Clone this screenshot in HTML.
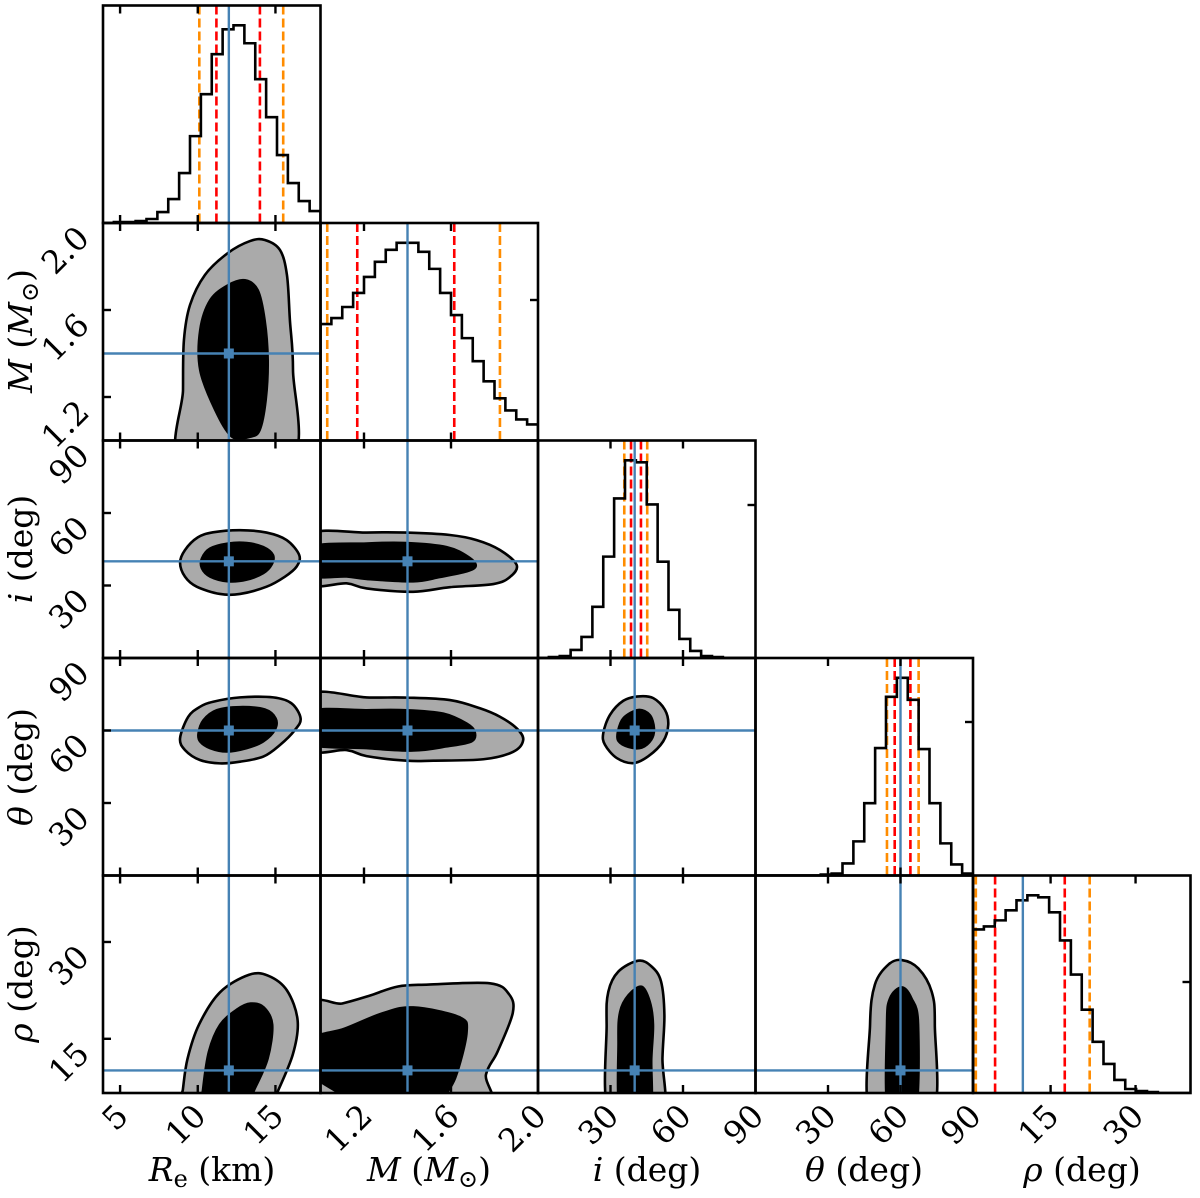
<!DOCTYPE html>
<html><head><meta charset="utf-8"><style>
html,body{margin:0;padding:0;background:#fff;}
svg{display:block;}
text{font-family:"DejaVu Serif","Liberation Serif",serif;fill:#000;}
</style></head><body>
<svg id="chart" width="1200" height="1198" viewBox="0 0 1200 1198" xmlns="http://www.w3.org/2000/svg">
<defs></defs>
<g id="layer-fill"></g>
<g id="layer-lines"></g>
<g id="layer-axes"></g>
<g id="layer-text"></g>
</svg>
<script>
// ---------- data ----------
const paramNames = ["Re","M","i","theta","rho"];
const truths = [12, 1.4, 40, 60, 10.1];
const colMin = [3.9, 1.0, 0, 0, 1.3];
const colMax = [17.9, 2.0, 90, 90, 39.7];
const rowMin = [0, 1.0, 0, 0, 6.6];
const rowMax = [1, 2.0, 90, 90, 40.3];

const histRe = [0,1,1,2,4,11,24,50,87,129,169,194,198,180,144,106,68,40,22,12];
const histM = [116,122,133,147,163,178,190,197,197,188,171,147,125,102,79,59,42,30,21,16];
const histI = [0,1,2,8,21,51,101,159,197,195,153,96,48,19,7,2,1,0,0,0];
const histTh = [0,0,0,0,0,0,1,2,12,34,72,127,178,197,175,126,72,32,11,2];
const histRho = [163,166,172,182,192,197,195,180,152,118,83,51,29,13,4,2,1,0,0,0];

const qRe = [10.1, 11.2, 14.0, 15.5];
const qM = [1.031, 1.169, 1.615, 1.825];
const qI = [35.7, 38.5, 42.6, 45.2];
const qTh = [54.4, 57.6, 64.1, 67.5];
const qRho = [1.8, 5.2, 17.5, 21.9];

const xTickVals = [[5,10,15],[1.2,1.6,2.0],[30,60,90],[30,60,90],[15,30]];
const xTickLabels = [["5","10","15"],["1.2","1.6","2.0"],["30","60","90"],["30","60","90"],["15","30"]];
const yTickVals = [[],[1.2,1.6,2.0],[30,60,90],[30,60,90],[15,30]];
const yTickLabels = [[],["1.2","1.6","2.0"],["30","60","90"],["30","60","90"],["15","30"]];

const cReM_outer = [[9.05,0.9],[9.05,1.232],[9.11,1.462],[9.5,1.623],[10.46,1.761],[11.94,1.862],[13.36,1.917],[14.32,1.922],[15.29,1.876],[15.74,1.761],[15.93,1.554],[16.13,1.324],[15.93,0.9]];
const cReM_inner = [[12.2,1.016],[11.11,1.14],[10.14,1.324],[10.14,1.508],[10.79,1.646],[11.94,1.715],[13.04,1.738],[13.87,1.692],[14.32,1.554],[14.52,1.37],[14.39,1.186],[14.0,1.048],[13.36,1.016]];
const cReI_outer = [[8.86,39.4],[9.18,44.7],[10.0,49.9],[10.98,52.0],[12.72,52.9],[14.43,51.9],[15.72,48.8],[16.53,42.6],[16.36,37.8],[15.6,33.6],[14.43,29.5],[12.72,26.5],[11.43,26.5],[9.93,29.5],[9.18,33.6]];
const cReI_inner = [[10.25,41.2],[10.79,45.4],[11.96,47.5],[13.15,47.7],[14.22,46.0],[14.86,42.6],[14.76,38.5],[14.22,35.0],[13.15,32.3],[11.96,31.6],[10.79,33.6],[10.25,37.1]];
const cReTh_outer = [[8.86,56.8],[9.39,65.7],[10.14,69.8],[10.99,71.9],[12.72,73.7],[14.86,73.7],[16.04,71.2],[16.62,65.0],[16.25,60.2],[15.29,54.0],[14.22,49.2],[12.72,47.1],[11.43,46.4],[10.14,47.8],[9.18,51.9]];
const cReTh_inner = [[10.03,58.8],[10.35,64.3],[11.22,68.5],[12.72,69.8],[14.32,68.8],[15.03,65.0],[14.97,60.2],[14.22,55.4],[13.15,52.6],[11.86,51.2],[10.79,52.6],[10.14,55.4]];
const cMI_outer = [[0.95,50.9],[1.212,51.9],[1.396,51.9],[1.595,50.9],[1.718,48.8],[1.825,44.7],[1.902,38.5],[1.872,33.6],[1.795,30.6],[1.595,29.3],[1.426,27.4],[1.212,28.8],[1.12,30.9],[0.95,31.1]];
const cMI_inner = [[0.95,45.8],[1.212,47.5],[1.396,47.7],[1.58,46.0],[1.68,41.9],[1.715,38.1],[1.672,35.7],[1.549,33.4],[1.426,31.6],[1.212,32.6],[1.12,33.6],[0.95,34.3]];
const cMTh_outer = [[0.95,74.7],[1.212,73.7],[1.396,73.6],[1.595,72.6],[1.733,69.2],[1.825,65.7],[1.902,60.9],[1.932,56.1],[1.886,51.2],[1.749,48.1],[1.519,47.5],[1.396,47.5],[1.212,49.4],[1.12,51.9],[0.95,52.6]];
const cMTh_inner = [[0.95,67.8],[1.212,68.5],[1.396,68.5],[1.565,67.1],[1.672,63.0],[1.71,59.5],[1.695,55.4],[1.58,53.3],[1.427,51.6],[1.212,52.6],[0.95,54.7]];
const cITh_outer = [[27.0,58.9],[29.8,66.5],[35.3,72.3],[41.5,74.1],[47.7,73.4],[52.5,68.6],[53.9,62.4],[51.8,55.5],[45.6,49.3],[39.4,46.5],[32.6,48.6],[27.7,54.1]];
const cITh_inner = [[33.0,59.7],[35.3,65.2],[41.5,68.6],[46.3,66.5],[48.1,61.0],[47.0,56.2],[42.9,52.8],[37.4,53.1],[33.2,55.6]];
const cReRho_outer = [[8.85,3],[9.04,7.1],[9.34,11.9],[10.08,17.2],[11.43,22.2],[13.28,24.9],[14.51,24.8],[15.74,22.5],[16.43,17.8],[16.11,12.5],[15.0,6.0],[14.51,3]];
const cReRho_inner = [[10.2,3],[10.32,7.1],[10.7,13.0],[11.43,17.2],[12.54,19.6],[13.4,20.5],[14.26,19.9],[14.81,17.2],[14.51,11.9],[13.65,7.1],[12.79,3]];
const cMRho_outer = [[0.95,3],[0.95,19.56],[1.1,20.47],[1.223,21.65],[1.356,23.1],[1.497,23.4],[1.779,23.6],[1.867,21.9],[1.884,19.0],[1.814,13.0],[1.761,9.5],[1.735,3]];
const cMRho_inner = [[0.95,14.8],[1.11,16.6],[1.286,19.0],[1.427,19.9],[1.638,18.4],[1.673,16.0],[1.62,8.9],[1.55,5],[1.541,3],[1.154,3],[1.11,5.9],[0.95,9.8]];
const cIRho_outer = [[29.8,3],[28.4,17.2],[29.1,22.3],[33.2,25.4],[41.5,27.1],[47.0,26.2],[50.9,23.9],[52.3,18.7],[51.5,12.0],[51.2,3]];
const cIRho_inner = [[34.3,3],[33.2,14.6],[33.9,19.2],[37.4,21.8],[42.9,23.1],[46.3,20.8],[47.7,17.2],[47.0,12.0],[46.1,3]];
const cThRho_outer = [[48.1,3],[47.4,17.2],[49.4,23.4],[55.0,26.5],[60.5,27.2],[67.4,25.9],[72.9,22.3],[74.2,17.2],[72.9,3]];
const cThRho_inner = [[55.0,3],[54.3,17.2],[55.6,21.3],[60.5,23.0],[64.6,21.3],[67.4,17.2],[66.0,3]];

// ---------- layout ----------
const PL = [103, 320.5, 538, 755.5, 973];
const PT = [5.5, 223, 440.5, 658, 875.5];
const PW = 217.5, PH = 217.5;
const NS = "http://www.w3.org/2000/svg";
const svg = document.getElementById("chart");
const defs = svg.querySelector("defs");
const LF = document.getElementById("layer-fill");
const LL = document.getElementById("layer-lines");
const LA = document.getElementById("layer-axes");
const LT = document.getElementById("layer-text");

function xs(c, v){ return PL[c] + (v - colMin[c]) / (colMax[c] - colMin[c]) * PW; }
function ys(r, v){ return PT[r] + PH - (v - rowMin[r]) / (rowMax[r] - rowMin[r]) * PH; }
function mk(tag, attrs, parent){
  const e = document.createElementNS(NS, tag);
  for (const k in attrs) e.setAttribute(k, attrs[k]);
  parent.appendChild(e);
  return e;
}
for (let r = 0; r < 5; r++) for (let c = 0; c <= r; c++) {
  const cp = mk("clipPath", {id: "clip-" + c + "-" + r}, defs);
  mk("rect", {x: PL[c], y: PT[r], width: PW, height: PH}, cp);
}
function smoothClosed(pts){
  const n = pts.length;
  let d = "M" + pts[0][0].toFixed(2) + "," + pts[0][1].toFixed(2);
  for (let k = 0; k < n; k++) {
    const p0 = pts[(k - 1 + n) % n], p1 = pts[k], p2 = pts[(k + 1) % n], p3 = pts[(k + 2) % n];
    const c1x = p1[0] + (p2[0] - p0[0]) / 6, c1y = p1[1] + (p2[1] - p0[1]) / 6;
    const c2x = p2[0] - (p3[0] - p1[0]) / 6, c2y = p2[1] - (p3[1] - p1[1]) / 6;
    d += "C" + c1x.toFixed(2) + "," + c1y.toFixed(2) + " " + c2x.toFixed(2) + "," + c2y.toFixed(2) + " " + p2[0].toFixed(2) + "," + p2[1].toFixed(2);
  }
  return d + "Z";
}
function drawContour(c, r, outer, inner, name){
  const g = mk("g", {"clip-path": "url(#clip-" + c + "-" + r + ")"}, LF);
  
  
  const po = outer.map(p => [xs(c, p[0]), ys(r, p[1])]);
  const pi = inner.map(p => [xs(c, p[0]), ys(r, p[1])]);
  const a = mk("path", {d: smoothClosed(po), fill: "#aaaaaa", stroke: "#000", "stroke-width": 2.6}, g);
  
  
  const b = mk("path", {d: smoothClosed(pi), fill: "#000", stroke: "#000", "stroke-width": 2}, g);
  
  
}
drawContour(0,1,cReM_outer,cReM_inner,"contour-re-m");
drawContour(0,2,cReI_outer,cReI_inner,"contour-re-i");
drawContour(0,3,cReTh_outer,cReTh_inner,"contour-re-theta");
drawContour(0,4,cReRho_outer,cReRho_inner,"contour-re-rho");
drawContour(1,2,cMI_outer,cMI_inner,"contour-m-i");
drawContour(1,3,cMTh_outer,cMTh_inner,"contour-m-theta");
drawContour(1,4,cMRho_outer,cMRho_inner,"contour-m-rho");
drawContour(2,3,cITh_outer,cITh_inner,"contour-i-theta");
drawContour(2,4,cIRho_outer,cIRho_inner,"contour-i-rho");
drawContour(3,4,cThRho_outer,cThRho_inner,"contour-theta-rho");

const hists = [histRe, histM, histI, histTh, histRho];
const quants = [qRe, qM, qI, qTh, qRho];
for (let c = 0; c < 5; c++) {
  const h = hists[c], n = h.length;
  const hmax = Math.max(...h) * 1.1;
  const base = PT[c] + PH;
  const bw = (colMax[c] - colMin[c]) / n;
  const hy = v => base - v / hmax * PH;
  const g = mk("g", {"clip-path": "url(#clip-" + c + "-" + c + ")"}, LL);
  
  
  quants[c].forEach((q, k) => {
    const x = xs(c, q);
    const ln = mk("line", {x1: x, x2: x, y1: PT[c], y2: base, stroke: (k === 0 || k === 3) ? "#ff8c00" : "#ff0000", "stroke-width": 2.6, "stroke-dasharray": "9,4"}, g);
    
    
  });
  let d = "M" + xs(c, colMin[c]) + "," + base;
  for (let k = 0; k < n; k++) {
    const x0 = xs(c, colMin[c] + k * bw), x1 = xs(c, colMin[c] + (k + 1) * bw);
    d += "L" + x0.toFixed(2) + "," + hy(h[k]).toFixed(2) + "L" + x1.toFixed(2) + "," + hy(h[k]).toFixed(2);
  }
  d += "L" + xs(c, colMax[c]) + "," + base;
  const p = mk("path", {d: d, fill: "none", stroke: "#000", "stroke-width": 2.6}, g);
  
  
}

const BLUE = "#4682b4";
for (let c = 0; c < 5; c++) {
  const x = xs(c, truths[c]);
  const v = mk("line", {x1: x, x2: x, y1: PT[c], y2: PT[4] + PH, stroke: BLUE, "stroke-width": 2.4}, LL);
  
  
}
for (let r = 1; r < 5; r++) {
  const y = ys(r, truths[r]);
  const hl = mk("line", {x1: PL[0], x2: PL[r], y1: y, y2: y, stroke: BLUE, "stroke-width": 2.4}, LL);
  
  
  for (let c = 0; c < r; c++) {
    const sq = mk("rect", {x: xs(c, truths[c]) - 5, y: y - 5, width: 10, height: 10, fill: BLUE}, LL);
    
    
  }
}

const TL = 8;
const diagRightTick = [null, 77, 64.5, 64, 106.5];
for (let r = 0; r < 5; r++) for (let c = 0; c <= r; c++) {
  const fr = mk("rect", {x: PL[c], y: PT[r], width: PW, height: PH, fill: "none", stroke: "#000", "stroke-width": 2.6}, LA);
  
  
  xTickVals[c].forEach(v => {
    if (v <= colMin[c] || v >= colMax[c]) return;
    const x = xs(c, v);
    const t1 = mk("line", {x1: x, x2: x, y1: PT[r] + PH, y2: PT[r] + PH - TL, stroke: "#000", "stroke-width": 2.4}, LA);
    
    
    const t2 = mk("line", {x1: x, x2: x, y1: PT[r], y2: PT[r] + TL, stroke: "#000", "stroke-width": 2.4}, LA);
    
    
  });
  if (c === 0 && r > 0) {
    yTickVals[r].forEach(v => {
      if (v <= rowMin[r] || v >= rowMax[r]) return;
      const y = ys(r, v);
      const t = mk("line", {x1: PL[0], x2: PL[0] + TL, y1: y, y2: y, stroke: "#000", "stroke-width": 2.4}, LA);
      
      
    });
  }
  if (c === r && r > 0) {
    const y = PT[r] + diagRightTick[r];
    const t = mk("line", {x1: PL[c] + PW, x2: PL[c] + PW - TL, y1: y, y2: y, stroke: "#000", "stroke-width": 2.4}, LA);
    
    
  }
}

const FS = 32;
for (let c = 0; c < 5; c++) {
  xTickVals[c].forEach((v, k) => {
    const x = xs(c, v) + 10, y = PT[4] + PH + 25;
    const t = mk("text", {x: x, y: y, "font-size": FS, "text-anchor": "end", transform: "rotate(-45 " + x + " " + y + ")"}, LT);
    t.textContent = xTickLabels[c][k];
    
    
  });
}
for (let r = 1; r < 5; r++) {
  yTickVals[r].forEach((v, k) => {
    const x = PL[0] - 12, y = ys(r, v) + 17;
    const t = mk("text", {x: x, y: y, "font-size": FS, "text-anchor": "end", transform: "rotate(-45 " + x + " " + y + ")"}, LT);
    t.textContent = yTickLabels[r][k];
    
    
  });
}

const xTitles = [
  {x:212, html:'<tspan font-style="italic">R</tspan><tspan font-size="24" dy="6">e</tspan><tspan dy="-6"> (km)</tspan>', name:'x-axis-title-re'},
  {x:429, html:'<tspan font-style="italic">M</tspan> (<tspan font-style="italic">M</tspan><tspan font-size="24" dy="6">⊙</tspan><tspan dy="-6">)</tspan>', name:'x-axis-title-m'},
  {x:647, html:'<tspan font-style="italic">i</tspan> (deg)', name:'x-axis-title-i'},
  {x:864, html:'<tspan font-style="italic">θ</tspan> (deg)', name:'x-axis-title-theta'},
  {x:1082, html:'<tspan font-style="italic">ρ</tspan> (deg)', name:'x-axis-title-rho'}
];
xTitles.forEach(o => {
  const t = mk("text", {x: o.x, y: 1181, "font-size": 33, "text-anchor": "middle"}, LT);
  t.innerHTML = o.html;
  
  
});
const yTitles = [
  {y:331, html:'<tspan font-style="italic">M</tspan> (<tspan font-style="italic">M</tspan><tspan font-size="24" dy="6">⊙</tspan><tspan dy="-6">)</tspan>', name:'y-axis-title-m'},
  {y:549, html:'<tspan font-style="italic">i</tspan> (deg)', name:'y-axis-title-i'},
  {y:767, html:'<tspan font-style="italic">θ</tspan> (deg)', name:'y-axis-title-theta'},
  {y:984, html:'<tspan font-style="italic">ρ</tspan> (deg)', name:'y-axis-title-rho'}
];
yTitles.forEach(o => {
  const t = mk("text", {x: 32, y: o.y, "font-size": 33, "text-anchor": "middle", transform: "rotate(-90 32 " + o.y + ")"}, LT);
  t.innerHTML = o.html;
  
  
});
</script>
</body></html>
